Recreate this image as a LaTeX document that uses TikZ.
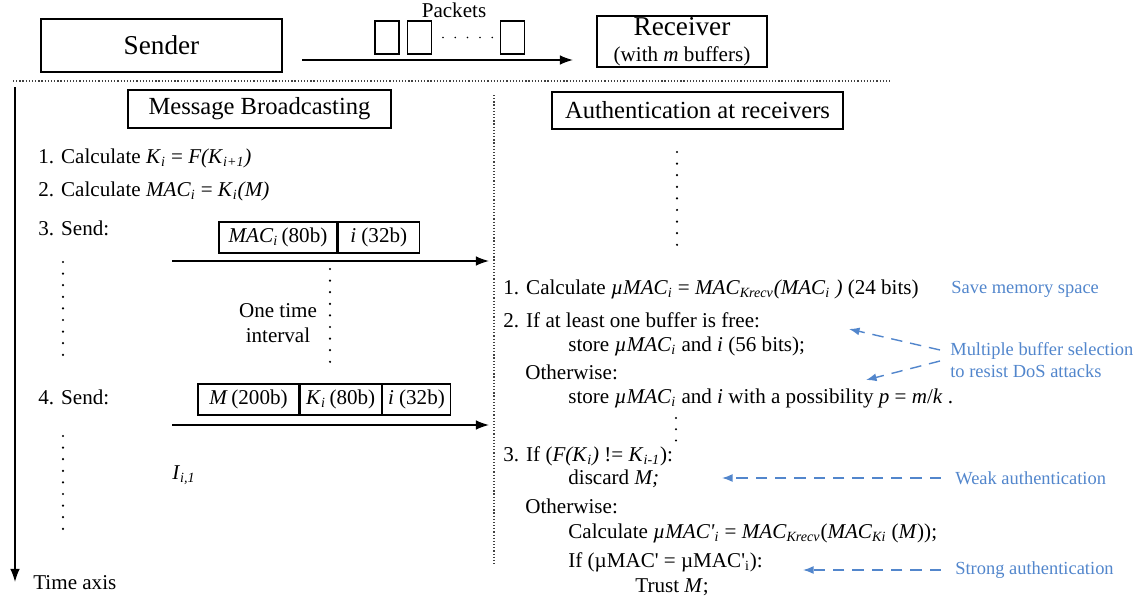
\documentclass[tikz,border=0pt]{standalone}
\usepackage{fontspec}
\setmainfont{Liberation Serif}
\usepackage{tikz}
\usetikzlibrary{arrows.meta, positioning}

\newcommand{\ix}[1]{\textsubscript{#1}}
\newcommand{\pr}{\textquotesingle}
\definecolor{noteblue}{RGB}{82,134,204}

\begin{document}
\begin{tikzpicture}[x=0.02cm, y=-0.02cm,
    hdrbox/.style={draw, line width=0.8pt, inner sep=0pt, font=\fontsize{15.5}{18}\selectfont},
    titlebox/.style={draw, line width=0.8pt, inner sep=0pt, font=\fontsize{14}{16}\selectfont},
    pktbox/.style={draw, line width=0.7pt, minimum width=0.48cm, minimum height=0.66cm, inner sep=0pt},
    fieldbox/.style={draw, line width=0.7pt, minimum height=0.62cm, inner sep=0pt, font=\fontsize{12}{14}\selectfont},
    txt/.style={anchor=west, inner sep=0pt, font=\fontsize{12}{14}\selectfont},
    note/.style={anchor=west, inner sep=0pt, text=noteblue, font=\fontsize{10.5}{12.5}\selectfont},
    flow/.style={line width=0.8pt, -{Latex[length=7.5pt, width=5.5pt]}},
    hint/.style={noteblue, line width=0.8pt, dash pattern=on 6.5pt off 4.5pt, -{Latex[length=6pt, width=4.5pt]}},
    dotcol/.style={line width=1.4pt, line cap=round, dash pattern=on 0pt off 6.6pt},
    sepline/.style={line width=0.6pt, black!75, dash pattern=on 0.7pt off 1.1pt}]
    \useasboundingbox (0, 0) rectangle (1140, 602);

    % top row
    \node[hdrbox, minimum width=4.82cm, minimum height=1.06cm] (sender) at (161.5, 45.5) {Sender};
    \node[hdrbox, minimum width=3.4cm, minimum height=1.02cm, align=center] (receiver) at (682, 41.5)
        {Receiver\\[-3pt]{\fontsize{12}{13}\selectfont (with \textit{m} buffers)}};
    \node[inner sep=0pt, font=\fontsize{12}{14}\selectfont] (packets) at (454, 10) {Packets};
    \node[pktbox] (p1) at (387, 37.5) {};
    \node[pktbox] (p2) at (419.5, 37.5) {};
    \node[pktbox] (p3) at (512.5, 37.5) {};
    \draw[dotcol, line width=1pt, dash pattern=on 0pt off 7pt] (443, 37.5) -- (494, 37.5);
    \coordinate (pktstart) at (302, 60);
    \coordinate (pktend) at (573, 60);
    \draw[flow] (pktstart) -- (pktend);

    \draw[sepline] (13, 81) -- (892, 81);
    \draw[sepline] (494, 95) -- (494, 564);

    % time axis
    \coordinate (axtop) at (15, 87);
    \coordinate (axbot) at (15, 582);
    \draw[flow] (axtop) -- (axbot);
    \node[txt] (timeaxis) at (33, 583) {Time axis};

    % message broadcasting
    \node[titlebox, minimum width=5.26cm, minimum height=0.76cm] (bcast) at (259.5, 109) {Message Broadcasting};
    \node[txt] (s1) at (38, 158) {1. Calculate \textit{K}\ix{\textit{i}} = \textit{F(K}\ix{\textit{i+1}}\textit{)}};
    \node[txt] (s2) at (38, 191) {2. Calculate \textit{MAC}\ix{\textit{i}} = \textit{K}\ix{\textit{i}}\textit{(M)}};
    \node[txt] (s3) at (38, 228) {3. Send:};
    \node[fieldbox, minimum width=2.36cm] (mac) at (278, 237.5) {\textit{MAC}\ix{\textit{i}}\,(80b)};
    \node[fieldbox, minimum width=1.62cm, right=0pt of mac] (idx1) {\textit{i} (32b)};
    \coordinate (send1a) at (172, 261);
    \coordinate (send1b) at (489, 261);
    \draw[flow] (send1a) -- (send1b);
    \draw[dotcol] (63, 262) -- (63, 356);
    \draw[dotcol] (330, 269) -- (330, 364);
    \node[inner sep=0pt, align=center, font=\fontsize{12}{14.5}\selectfont] (interval) at (278, 323) {One time\\interval};

    \node[txt] (s4) at (38, 397) {4. Send:};
    \node[fieldbox, minimum width=2.02cm] (msg) at (248.5, 399.5) {\textit{M}\,(200b)};
    \node[fieldbox, minimum width=1.62cm, right=0pt of msg] (key) {\textit{K}\ix{\textit{i}}\,(80b)};
    \node[fieldbox, minimum width=1.36cm, right=0pt of key] (idx2) {\textit{i} (32b)};
    \coordinate (send2a) at (172, 425);
    \coordinate (send2b) at (489, 425);
    \draw[flow] (send2a) -- (send2b);
    \draw[dotcol] (63, 436) -- (63, 531);
    \node[txt] (ival) at (172, 475) {\textit{I}\ix{\textit{i,1}}};

    % authentication at receivers
    \node[titlebox, minimum width=5.82cm, minimum height=0.74cm] (auth) at (697.5, 110.5) {Authentication at receivers};
    \draw[dotcol] (677, 152) -- (677, 247);
    \node[txt] (r1) at (503, 289) {1. Calculate \textit{µMAC}\ix{\textit{i}} = \textit{MAC}\ix{\textit{Krecv}}\textit{(MAC}\ix{\textit{i}}\textit{ )} (24 bits)};
    \node[txt] (r2) at (503, 320) {2. If at least one buffer is free:};
    \node[txt] (r2a) at (568, 346) {store \textit{µMAC}\ix{\textit{i}} and \textit{i} (56 bits);};
    \node[txt] (r2b) at (525, 372) {Otherwise:};
    \node[txt] (r2c) at (568, 398) {store \textit{µMAC}\ix{\textit{i}} and \textit{i} with a possibility \textit{p} = \textit{m}/\textit{k} .};
    \draw[dotcol, dash pattern=on 0pt off 6.4pt] (676, 418) -- (676, 442);
    \node[txt] (r3) at (503, 456) {3. If (\textit{F(K}\ix{\textit{i}}\textit{)} != \textit{K}\ix{\textit{i-1}}):};
    \node[txt] (r3a) at (568, 479) {discard \textit{M;}};
    \node[txt] (r3b) at (525, 506) {Otherwise:};
    \node[txt] (r3c) at (568, 533) {Calculate \textit{µMAC\pr}\ix{\textit{i}} = \textit{MAC}\ix{\textit{Krecv}}(\textit{MAC}\ix{\textit{Ki}} (\textit{M}));};
    \node[txt] (r3d) at (568, 562) {If (µMAC\pr{} = µMAC\pr\ix{i}):};
    \node[txt] (r3e) at (635, 587) {Trust \textit{M};};

    % notes
    \node[note] (save) at (951, 289) {Save memory space};
    \node[note, align=left] (multi) at (950, 360) {Multiple buffer selection\\to resist DoS attacks};
    \node[note] (weak) at (955, 478) {Weak authentication};
    \node[note] (strong) at (955, 570) {Strong authentication};
    \coordinate (multia) at (940, 350);
    \coordinate (multib) at (940, 361);
    \coordinate (bufa) at (849, 329);
    \coordinate (bufb) at (866, 380);
    \coordinate (weakend) at (722, 478);
    \coordinate (strongend) at (803, 570);
    \draw[hint] (multia) -- (bufa);
    \draw[hint] (multib) -- (bufb);
    \draw[hint, shorten <=8pt] (weak.west) -- (weakend);
    \draw[hint, shorten <=8pt] (strong.west) -- (strongend);

\end{tikzpicture}
\end{document}
